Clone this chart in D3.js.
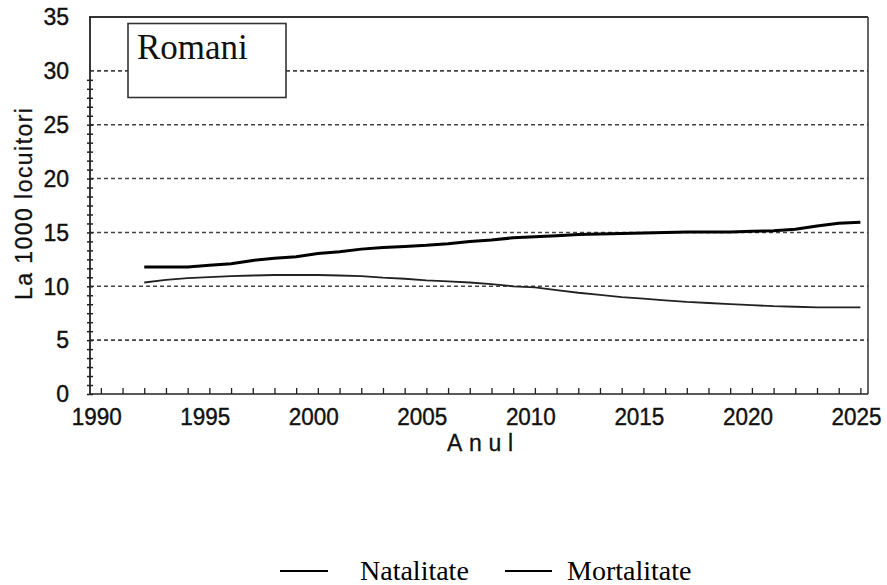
<!DOCTYPE html>
<html><head><meta charset="utf-8">
<script src="https://cdn.jsdelivr.net/npm/d3@7/dist/d3.min.js"></script>
<style>body{margin:0;background:#fff}svg{display:block}</style>
</head><body>
<svg id="chart" width="887" height="585"></svg>
<script>
const years = d3.range(1992, 2026);
const natalitate = [10.35,10.6,10.75,10.85,10.95,11.0,11.05,11.05,11.05,11.0,10.95,10.8,10.7,10.55,10.45,10.35,10.2,10.0,9.9,9.65,9.4,9.2,9.0,8.85,8.7,8.55,8.45,8.35,8.25,8.15,8.1,8.05,8.05,8.05];
const mortalitate = [11.8,11.8,11.8,11.95,12.1,12.4,12.6,12.75,13.05,13.2,13.45,13.6,13.7,13.8,13.95,14.15,14.3,14.5,14.6,14.7,14.8,14.85,14.9,14.95,15.0,15.05,15.05,15.05,15.1,15.15,15.3,15.6,15.85,15.95];
const xTickLabels = [1990,1995,2000,2005,2010,2015,2020,2025];
const yTickLabels = [0,5,10,15,20,25,30,35];
const seriesNames = ["Natalitate","Mortalitate"];
const boxTitle = "Romani";
const yTitle = "La 1000 locuitori";
const xTitle = "Anul";

const svg = d3.select("#chart");
const x = d3.scaleLinear().domain([1989.5, 2025.35]).range([90, 868]);
const y = d3.scaleLinear().domain([0, 35]).range([394, 17]);
const sans = "Liberation Sans, Arial, sans-serif";

// gridlines
svg.append("g").selectAll("line").data(yTickLabels.filter(v => v > 0 && v < 35)).join("line")
  .attr("x1", x.range()[0]).attr("x2", x.range()[1])
  .attr("y1", d => y(d)).attr("y2", d => y(d))
  .attr("stroke", "#444").attr("stroke-width", 1.6).attr("stroke-dasharray", "4,3");

// frame top & right
svg.append("line").attr("x1", 89).attr("x2", 868).attr("y1", y(35)).attr("y2", y(35))
  .attr("stroke", "#333").attr("stroke-width", 1.8);
svg.append("line").attr("x1", 868).attr("x2", 868).attr("y1", y(35)).attr("y2", y(0))
  .attr("stroke", "#333").attr("stroke-width", 1.5);

// x axis
const xAxis = d3.axisBottom(x).tickValues(d3.range(1990, 2026)).tickSize(-6).tickFormat("");
const gx = svg.append("g").attr("transform", `translate(0,${y(0)})`).call(xAxis);
gx.select(".domain").attr("d", `M${x.range()[0]},0H${x.range()[1]}`).attr("stroke", "#222").attr("stroke-width", 1.6);
gx.selectAll(".tick line").attr("stroke", "#222").attr("stroke-width", 1.3);
svg.append("g").selectAll("text").data(xTickLabels).join("text")
  .attr("x", d => x(d) - 4).attr("y", 425)
  .attr("text-anchor", "middle")
  .attr("font-family", sans).attr("font-size", 23)
  .attr("fill", "#111").attr("stroke", "#111").attr("stroke-width", 0.4)
  .attr("textLength", 50).attr("lengthAdjust", "spacingAndGlyphs").text(d => d);

// y axis with minor ticks
const minor = d3.range(0, 36).map(i => i * 5 / 6).filter(v => v <= 35.001);
const yAxis = d3.axisLeft(y).tickValues(minor).tickSize(3).tickFormat("");
const gy = svg.append("g").attr("transform", `translate(${x.range()[0]},0)`).call(yAxis);
gy.select(".domain").attr("d", `M0,${y(0)}V${y(35)}`).attr("stroke", "#222").attr("stroke-width", 1.8);
gy.selectAll(".tick line").attr("x1", 3).attr("x2", -3).attr("stroke", "#222").attr("stroke-width", 1.5);
svg.append("g").selectAll("text").data(yTickLabels).join("text")
  .attr("x", 69).attr("y", d => y(d)).attr("dy", "0.36em")
  .attr("text-anchor", "end")
  .attr("font-family", sans).attr("font-size", 23)
  .attr("fill", "#111").attr("stroke", "#111").attr("stroke-width", 0.4).text(d => d);

// axis titles
svg.append("text").attr("transform", "translate(32,204) rotate(-90)")
  .attr("text-anchor", "middle").attr("font-family", sans)
  .attr("font-size", 23).attr("fill", "#111").attr("stroke", "#111").attr("stroke-width", 0.3)
  .attr("textLength", 192).attr("lengthAdjust", "spacing").text(yTitle);
svg.append("text").attr("x", 480).attr("y", 451)
  .attr("text-anchor", "middle").attr("font-family", sans)
  .attr("font-size", 23).attr("fill", "#111").attr("stroke", "#111").attr("stroke-width", 0.3)
  .attr("textLength", 66).attr("lengthAdjust", "spacing").text(xTitle);

// lines
const line = vals => d3.line().x((d, i) => x(years[i])).y(d => y(d))(vals);
svg.append("path").attr("d", line(natalitate)).attr("fill", "none")
  .attr("stroke", "#222").attr("stroke-width", 1.8);
svg.append("path").attr("d", line(mortalitate)).attr("fill", "none")
  .attr("stroke", "#000").attr("stroke-width", 3);

// Romani box
svg.append("rect").attr("x", 128).attr("y", 23.5).attr("width", 158).attr("height", 74)
  .attr("fill", "#fff").attr("stroke", "#333").attr("stroke-width", 1.6);
svg.append("text").attr("x", 137).attr("y", 59)
  .attr("font-family", "Liberation Serif, Times New Roman, serif").attr("font-size", 35)
  .attr("fill", "#111").text(boxTitle);

// legend
const legX = [[280, 328, 360], [505, 552, 567]];
const leg = svg.append("g").selectAll("g").data(seriesNames).join("g");
leg.append("line").attr("x1", (d, i) => legX[i][0]).attr("x2", (d, i) => legX[i][1])
  .attr("y1", 571).attr("y2", 571).attr("stroke", "#000").attr("stroke-width", 2);
leg.append("text").attr("x", (d, i) => legX[i][2]).attr("y", 580)
  .attr("font-family", "Liberation Serif, Times New Roman, serif").attr("font-size", 28)
  .attr("fill", "#000").text(d => d);
</script>
</body></html>
